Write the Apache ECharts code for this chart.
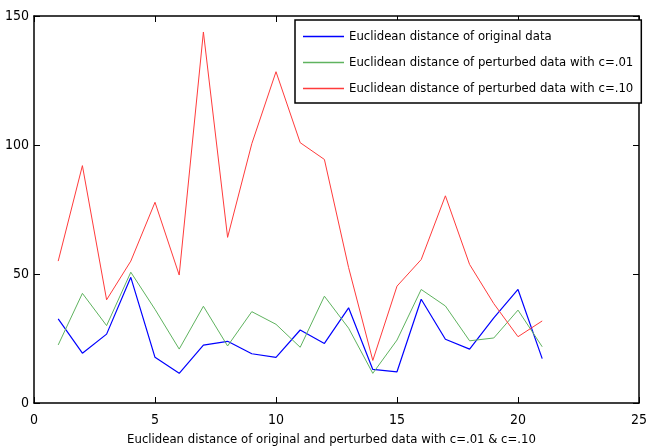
<!DOCTYPE html>
<html>
<head>
<meta charset="utf-8">
<script src="https://cdn.jsdelivr.net/npm/echarts@6/dist/echarts.min.js"></script>
<style>
html,body{margin:0;padding:0;background:#fff;}
#chart{width:647px;height:448px;}
</style>
</head>
<body>
<div id="chart"></div>
<script>
var xValues = [1,2,3,4,5,6,7,8,9,10,11,12,13,14,15,16,17,18,19,20,21];
var original = [32.6,19.3,26.7,48.7,17.7,11.5,22.4,23.9,19.1,17.7,28.3,23.1,36.9,13.0,12.1,40.2,24.7,20.9,33.0,44.0,17.2];
var perturbed01 = [22.5,42.5,30.0,50.7,36.3,20.9,37.5,22.1,35.4,30.5,21.6,41.4,29.0,11.5,24.4,44.0,37.6,24.1,25.2,36.0,21.8];
var perturbed10 = [55.0,92.0,40.0,55.0,77.8,49.6,143.8,64.2,100.5,128.4,100.9,94.4,52.5,16.5,45.3,55.6,80.3,53.7,38.5,25.7,31.8];
var seriesNames = [
  'Euclidean distance of original data',
  'Euclidean distance of perturbed data with c=.01',
  'Euclidean distance of perturbed data with c=.10'
];
var xTitle = 'Euclidean distance of original and perturbed data with c=.01 & c=.10';

function pairs(ys){ return xValues.map(function(x,i){ return [x, ys[i]]; }); }

var FONT = '"DejaVu Sans Condensed", "Liberation Sans", Arial, sans-serif';
var FS = 13;
var chart = echarts.init(document.getElementById('chart'), null, {renderer:'canvas'});
var axisCommon = {
  axisLine:{show:true, onZero:false, lineStyle:{color:'#000', width:1.5}},
  axisTick:{show:true, inside:true, length:6, lineStyle:{color:'#000', width:1}},
  splitLine:{show:false}
};
chart.setOption({
  animation:false,
  backgroundColor:'#fff',
  textStyle:{fontFamily:FONT},
  grid:{left:34, right:8, top:16, bottom:45, containLabel:false, outerBoundsMode:'none'},
  xAxis:[
    Object.assign({type:'value', min:0, max:25, interval:5, position:'bottom',
      name:xTitle, nameLocation:'middle', nameGap:30,
      nameTextStyle:{color:'#000', fontSize:FS, fontFamily:FONT, padding:[0,10,0,0]},
      axisLabel:{color:'#000', fontSize:FS+1, margin:10, fontFamily:FONT}}, axisCommon),
    Object.assign({type:'value', min:0, max:25, interval:5, position:'top',
      axisLabel:{show:false}}, axisCommon)
  ],
  yAxis:[
    Object.assign({type:'value', min:0, max:150, interval:50, position:'left',
      axisLabel:{color:'#000', fontSize:FS+1, margin:5, fontFamily:FONT}}, axisCommon),
    Object.assign({type:'value', min:0, max:150, interval:50, position:'right',
      axisLabel:{show:false}}, axisCommon)
  ],
  legend:{
    orient:'vertical', left:295, top:20,
    backgroundColor:'#fff', borderColor:'#000', borderWidth:1.5,
    padding:[10,8,8,8], itemGap:13, itemWidth:41, itemHeight:1.5,
    icon:'rect',
    textStyle:{color:'#000', fontSize:FS, fontFamily:FONT},
    data:seriesNames
  },
  series:[
    {name:seriesNames[0], type:'line', data:pairs(original), symbol:'none',
     lineStyle:{color:'#0000ff', width:1.2}, itemStyle:{color:'#0000ff'}},
    {name:seriesNames[1], type:'line', data:pairs(perturbed01), symbol:'none',
     lineStyle:{color:'#5fb35f', width:1}, itemStyle:{color:'#5fb35f'}},
    {name:seriesNames[2], type:'line', data:pairs(perturbed10), symbol:'none',
     lineStyle:{color:'#ff3b3b', width:1}, itemStyle:{color:'#ff3b3b'}}
  ]
});
</script>
</body>
</html>
